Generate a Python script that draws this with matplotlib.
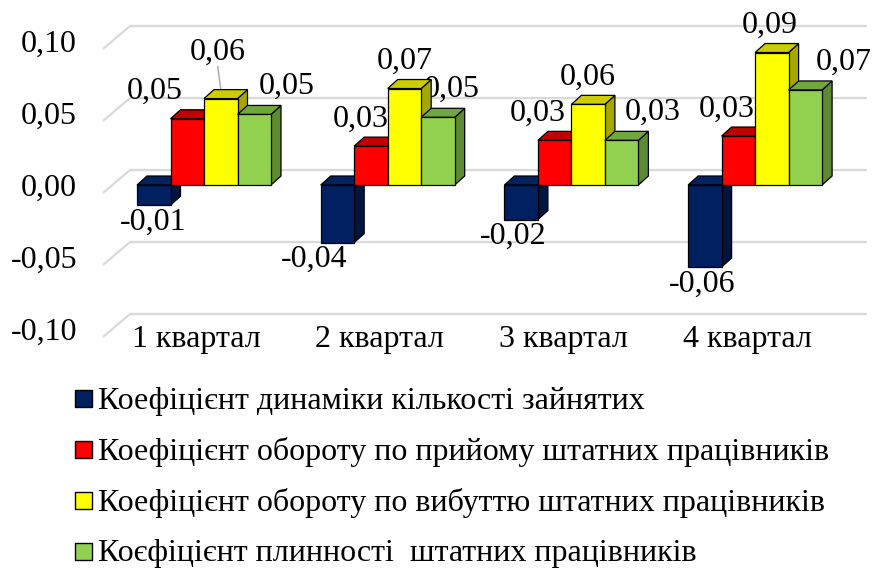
import matplotlib
matplotlib.use("Agg")
import matplotlib.pyplot as plt
from matplotlib.patches import Polygon, Rectangle
import numpy as np

plt.rcParams["font.family"] = ["Liberation Serif", "DejaVu Serif"]

quarters = ["1 квартал", "2 квартал", "3 квартал", "4 квартал"]
series_names = [
    "Коефіцієнт динаміки кількості зайнятих",
    "Коефіцієнт обороту по прийому штатних працівників",
    "Коефіцієнт обороту по вибуттю штатних працівників",
    "Коєфіцієнт плинності  штатних працівників",
]
dynamics = [-0.014, -0.040, -0.024, -0.057]
hiring = [0.046, 0.027, 0.031, 0.034]
leaving = [0.060, 0.067, 0.056, 0.092]
fluidity = [0.049, 0.047, 0.031, 0.066]
y_ticks = [0.10, 0.05, 0.00, -0.05, -0.10]

# front / top / side shades for each series
faces = [
    ("#002060", "#00225f", "#001640"),
    ("#ff0000", "#c00000", "#a00000"),
    ("#ffff00", "#cccc00", "#a6a600"),
    ("#92d050", "#70a83c", "#5e8a32"),
]

# horizontal label nudges (px) per series/quarter, vertical gap per series
label_dx = [[-1, -23, -8, -3],
            [-32, -10, -17, -12],
            [-3, 0, 0, -2],
            [33, 14, 31, 38]]
label_dy = [-17, 27, 27, 28]

FS = 23
W, H = 872, 568
XPX = 183.7      # px per category
YPX = 1440.0     # px per value unit
X0, Y0 = 204, 185  # pixel of first category centre / zero line (bar fronts)

fig = plt.figure(figsize=(W / 100, H / 100), dpi=100)
ax = fig.add_axes([0, 0, 1, 1])
ax.set_xlim(-X0 / XPX, (W - X0) / XPX)
ax.set_ylim(-(H - Y0) / YPX, Y0 / YPX)
ax.axis("off")

def px_x(p):
    return p / XPX

def px_y(p):
    return p / YPX

# back wall gridlines with the slanted floor edge on the left
for v in y_ticks:
    ax.plot([px_x(103 - X0), px_x(130 - X0), px_x(867 - X0)],
            [v - px_y(8), v + px_y(15), v + px_y(15)],
            color="#d9d9d9", lw=1.6, zorder=1, solid_capstyle="butt")
    ax.text(px_x(77 - X0), v - px_y(3), f"{v:.2f}".replace(".", ","),
            ha="right", va="center", fontsize=FS)

for i, q in enumerate(quarters):
    ax.text(i - px_x(8), -0.10 - px_y(10), q,
            ha="center", va="center", fontsize=FS)

bw = px_x(33.5)
ddx, ddy = px_x(10), px_y(9)
xc = np.arange(len(quarters))
data = [dynamics, hiring, leaving, fluidity]

for j, vals in enumerate(data):
    front, top_c, side_c = faces[j]
    lefts = xc - 2 * bw + j * bw
    z = 3 + 2 * j
    for x0, v in zip(lefts, vals):
        x1 = x0 + bw
        hi, lo = max(v, 0), min(v, 0)
        ax.add_patch(Polygon([(x1, lo), (x1 + ddx, lo + ddy), (x1 + ddx, hi + ddy), (x1, hi)],
                             closed=True, fc=side_c, ec="black", lw=0.9, zorder=z))
        ax.add_patch(Polygon([(x0, hi), (x0 + ddx, hi + ddy), (x1 + ddx, hi + ddy), (x1, hi)],
                             closed=True, fc=top_c, ec="black", lw=0.9, zorder=z))
    ax.bar(lefts, vals, width=bw, align="edge", color=front,
           edgecolor="black", linewidth=0.9, zorder=z + 1)

    for i, (x0, v) in enumerate(zip(lefts, vals)):
        cx = x0 + bw / 2 + px_x(label_dx[j][i])
        ty = v + px_y(label_dy[j])
        if j == 2 and i == 0:
            # raised label with a leader line down to the bar
            ty = v + px_y(46)
            ax.plot([cx, x0 + bw / 2 + px_x(1)], [ty - px_y(14), v + px_y(2)],
                    color="#a6a6a6", lw=1.0, zorder=2)
        ax.text(cx, ty, f"{v:.2f}".replace(".", ","), ha="center", va="center",
                fontsize=FS, zorder=2.5)

# legend below the plot
for k, name in enumerate(series_names):
    yc = 398 + 51 * k
    fig.patches.append(Rectangle((75 / W, 1 - (yc + 8.5) / H), 17 / W, 17 / H,
                                 transform=fig.transFigure, fc=faces[k][0],
                                 ec="black", lw=1.0))
    fig.text(98 / W, 1 - (yc + 3) / H, name, ha="left", va="center", fontsize=FS)

fig.savefig("out.png", dpi=100)
